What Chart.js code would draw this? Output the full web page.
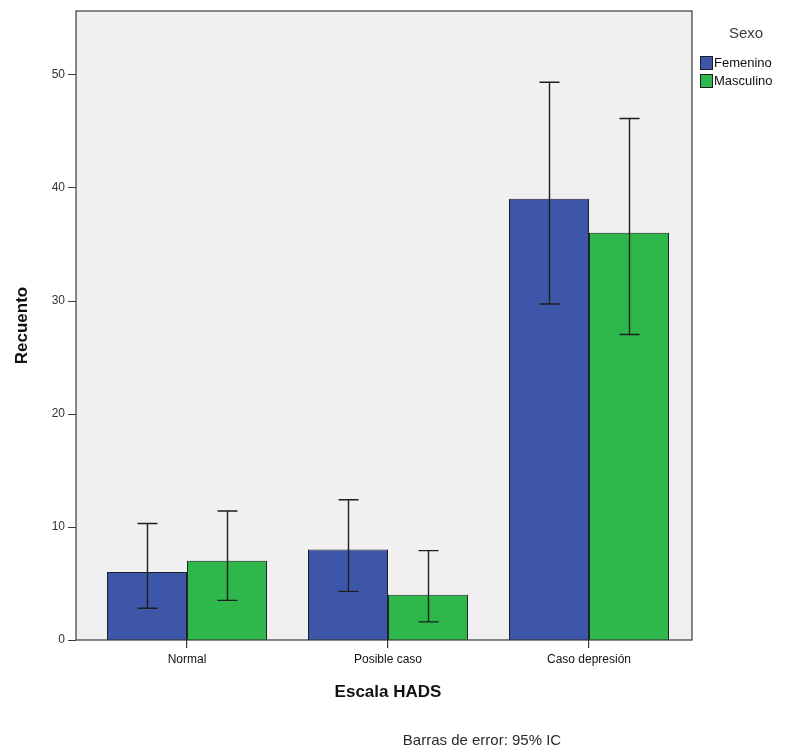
<!DOCTYPE html>
<html>
<head>
<meta charset="utf-8">
<script src="https://cdn.jsdelivr.net/npm/chart.js@4/dist/chart.umd.min.js"></script>
<style>
  html, body { margin: 0; padding: 0; background: #ffffff; }
  #wrap { width: 798px; height: 754px; }
</style>
</head>
<body>
<div id="wrap"><canvas id="c" width="798" height="754"></canvas></div>
<script>
// Escala HADS por sexo: recuentos con intervalos de confianza del 95 %
const categories = ['Normal', 'Posible caso', 'Caso depresión'];
const seriesNames = ['Femenino', 'Masculino'];
const femenino = [6, 8, 39];
const masculino = [7, 4, 36];
const femeninoLow = [2.8, 4.3, 29.7];
const femeninoHigh = [10.3, 12.4, 49.3];
const masculinoLow = [3.5, 1.6, 27.0];
const masculinoHigh = [11.4, 7.9, 46.1];
const yTickValues = [0, 10, 20, 30, 40, 50];

const FONT = "'Liberation Sans', Arial, sans-serif";
const BLUE = '#3d56a8';
const GREEN = '#2eb84b';
const PLOT_BG = '#f0f0f0';
const FRAME = '#3a3a3a';

// Panel, marcos, barras de error, leyenda y nota al pie
const decor = {
  id: 'decor',
  beforeDraw(chart) {
    const { ctx, chartArea } = chart;
    ctx.save();
    ctx.fillStyle = '#ffffff';
    ctx.fillRect(0, 0, chart.width, chart.height);
    ctx.fillStyle = PLOT_BG;
    ctx.fillRect(76, chartArea.top, 692 - 76, chartArea.bottom - chartArea.top);
    ctx.restore();
  },
  afterDatasetsDraw(chart) {
    const { ctx } = chart;
    const y = chart.scales.y;
    const lows = [femeninoLow, masculinoLow];
    const highs = [femeninoHigh, masculinoHigh];
    ctx.save();
    ctx.strokeStyle = '#1e1e1e';
    ctx.lineWidth = 1.4;
    for (let d = 0; d < 2; d++) {
      const meta = chart.getDatasetMeta(d);
      meta.data.forEach((bar, i) => {
        const x = Math.round(bar.x) + 0.5;
        const yl = y.getPixelForValue(lows[d][i]);
        const yh = y.getPixelForValue(highs[d][i]);
        ctx.beginPath();
        ctx.moveTo(x, yl); ctx.lineTo(x, yh);
        ctx.moveTo(x - 10, yl); ctx.lineTo(x + 10, yl);
        ctx.moveTo(x - 10, yh); ctx.lineTo(x + 10, yh);
        ctx.stroke();
      });
    }
    ctx.restore();
  },
  afterDraw(chart) {
    const { ctx, chartArea } = chart;
    const y = chart.scales.y;
    ctx.save();
    // marco del área de trazado
    ctx.strokeStyle = FRAME;
    ctx.lineWidth = 1.2;
    ctx.strokeRect(76, chartArea.top, 692 - 76, chartArea.bottom - chartArea.top);
    // marcas del eje Y
    ctx.beginPath();
    yTickValues.forEach(v => {
      const py = Math.round(y.getPixelForValue(v)) + 0.5;
      ctx.moveTo(68, py); ctx.lineTo(76, py);
    });
    ctx.stroke();

    // leyenda
    ctx.fillStyle = '#3c3c3c';
    ctx.font = '15px ' + FONT;
    ctx.textAlign = 'center';
    ctx.textBaseline = 'middle';
    ctx.fillText('Sexo', 746, 34);
    const colors = [BLUE, GREEN];
    seriesNames.forEach((name, i) => {
      const top = 56 + i * 18;
      ctx.fillStyle = colors[i];
      ctx.fillRect(700, top, 12, 13);
      ctx.strokeStyle = '#1e1e1e';
      ctx.lineWidth = 1;
      ctx.strokeRect(700.5, top + 0.5, 12, 13);
      ctx.fillStyle = '#111111';
      ctx.font = '13px ' + FONT;
      ctx.textAlign = 'left';
      ctx.fillText(name, 714, top + 7);
    });

    // nota al pie
    ctx.fillStyle = '#2a2a2a';
    ctx.font = '15px ' + FONT;
    ctx.textAlign = 'center';
    ctx.fillText('Barras de error: 95% IC', 482, 741);
    ctx.restore();
  }
};

new Chart(document.getElementById('c'), {
  type: 'bar',
  data: {
    labels: categories,
    datasets: [
      { label: seriesNames[0], data: femenino, backgroundColor: BLUE, borderColor: '#1a1f33', borderWidth: 1 },
      { label: seriesNames[1], data: masculino, backgroundColor: GREEN, borderColor: '#1a2a1c', borderWidth: 1 }
    ]
  },
  options: {
    responsive: false,
    animation: false,
    devicePixelRatio: 1,
    layout: { padding: { top: 11, right: 108.5, left: 0, bottom: 0 } },
    datasets: { bar: { categoryPercentage: 0.796, barPercentage: 1.0 } },
    plugins: {
      legend: { display: false },
      tooltip: { enabled: false }
    },
    scales: {
      x: {
        offset: true,
        afterFit(scale) { scale.height = 754 - 640; },
        border: { display: false },
        grid: { display: true, drawOnChartArea: false, drawTicks: true, tickLength: 8, offset: false, color: FRAME, lineWidth: 1.2 },
        ticks: { color: '#111111', font: { family: FONT, size: 12 }, padding: 4, maxRotation: 0 },
        title: { display: true, text: 'Escala HADS', color: '#111111', font: { family: FONT, size: 17, weight: 'bold' }, padding: { top: 0, bottom: 51 } }
      },
      y: {
        min: 0,
        max: 55.6,
        afterFit(scale) { scale.width = 86.5; },
        border: { display: false },
        grid: { display: false, drawTicks: true, tickLength: 18.5 },
        ticks: { stepSize: 10, includeBounds: false, color: '#333333', font: { family: FONT, size: 12 }, padding: 3 },
        title: { display: true, text: 'Recuento', color: '#111111', font: { family: FONT, size: 17, weight: 'bold' }, padding: { top: 12, bottom: 0 } }
      }
    }
  },
  plugins: [decor]
});
</script>
</body>
</html>
